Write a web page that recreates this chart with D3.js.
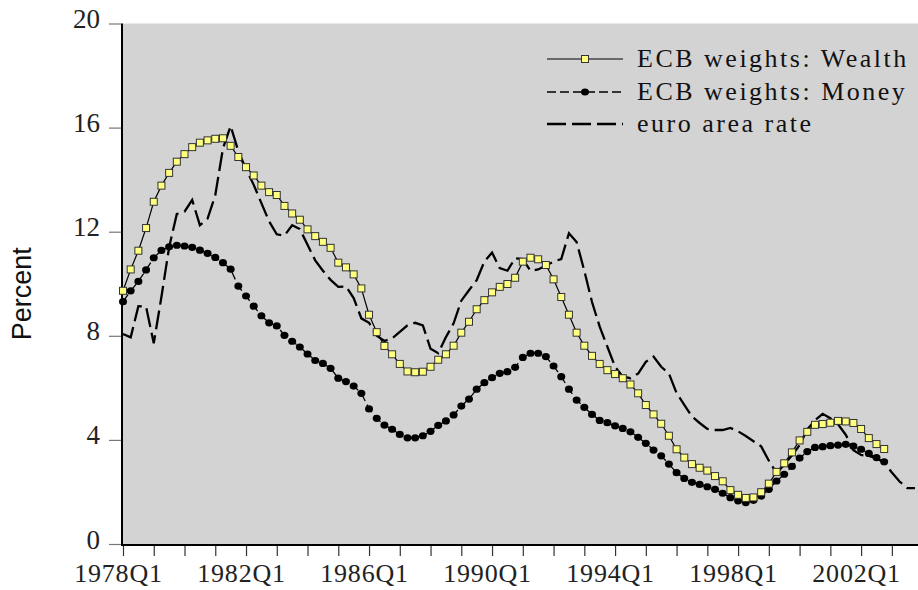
<!DOCTYPE html>
<html>
<head>
<meta charset="utf-8">
<script src="https://cdn.jsdelivr.net/npm/d3@7"></script>
<style>
  body { margin: 0; background: #fff; }
  svg { display: block; }
</style>
</head>
<body>
<div id="chart"></div>
<script>
  let width = 918;
  let height = 590;

  // quarterly data, index 0 = 1978Q1
  let startYear = 1978;
  let tickLabels = ['1978Q1', '1982Q1', '1986Q1', '1990Q1', '1994Q1', '1998Q1', '2002Q1'];
  let yTicks = [0, 4, 8, 12, 16, 20];
  let seriesNames = ['ECB weights: Wealth', 'ECB weights: Money', 'euro area rate'];

  let wealth = [
    9.73, 10.55, 11.27, 12.14, 13.15, 13.77, 14.26, 14.69, 14.98, 15.25,
    15.42, 15.51, 15.57, 15.59, 15.30, 14.87, 14.48, 14.16, 13.77, 13.52,
    13.41, 12.99, 12.70, 12.46, 12.09, 11.83, 11.61, 11.38, 10.81, 10.63,
    10.36, 9.82, 8.81, 8.14, 7.61, 7.29, 6.92, 6.63, 6.60, 6.62,
    6.81, 7.08, 7.29, 7.62, 8.12, 8.54, 9.02, 9.37, 9.67, 9.88,
    9.99, 10.23, 10.85, 11.00, 10.94, 10.72, 10.17, 9.49, 8.81, 8.12,
    7.62, 7.23, 6.92, 6.68, 6.53, 6.37, 6.13, 5.79, 5.34, 4.98,
    4.62, 4.16, 3.64, 3.32, 3.07, 2.93, 2.82, 2.61, 2.41, 2.07,
    1.89, 1.77, 1.79, 1.99, 2.32, 2.77, 3.10, 3.52, 3.98, 4.31,
    4.58, 4.61, 4.66, 4.73, 4.71, 4.65, 4.42, 4.07, 3.84, 3.65
  ];

  let money = [
    9.31, 9.73, 10.09, 10.53, 11.00, 11.28, 11.42, 11.48, 11.45, 11.40,
    11.29, 11.17, 11.01, 10.81, 10.56, 9.91, 9.53, 9.14, 8.77, 8.50,
    8.38, 8.02, 7.79, 7.57, 7.30, 7.05, 6.94, 6.75, 6.37, 6.24,
    6.07, 5.79, 5.19, 4.83, 4.57, 4.41, 4.21, 4.08, 4.08, 4.16,
    4.33, 4.56, 4.73, 4.96, 5.30, 5.57, 5.95, 6.20, 6.39, 6.56,
    6.62, 6.79, 7.17, 7.33, 7.33, 7.20, 6.84, 6.43, 5.95, 5.53,
    5.25, 4.98, 4.75, 4.66, 4.54, 4.44, 4.31, 4.10, 3.87, 3.61,
    3.39, 3.07, 2.74, 2.52, 2.37, 2.29, 2.20, 2.10, 1.95, 1.78,
    1.66, 1.59, 1.68, 1.84, 2.10, 2.42, 2.68, 2.98, 3.30, 3.55,
    3.71, 3.74, 3.78, 3.80, 3.83, 3.76, 3.64, 3.48, 3.32, 3.16
  ];

  let euroRate = [
    8.07, 7.94, 9.14, 9.12, 7.71, 9.50, 11.40, 12.68, 12.77, 13.22,
    12.25, 12.50, 13.40, 15.20, 16.06, 15.10, 14.40, 13.80, 13.10, 12.40,
    11.90, 11.85, 12.25, 12.10, 11.50, 10.90, 10.50, 10.15, 9.88, 9.90,
    9.45, 8.67, 8.50, 8.00, 7.80, 7.90, 8.15, 8.40, 8.50, 8.40,
    7.50, 7.33, 7.95, 8.48, 9.35, 9.75, 10.14, 10.85, 11.20, 10.60,
    10.50, 10.98, 10.95, 10.50, 10.55, 10.70, 10.85, 10.95, 11.94, 11.60,
    10.50, 9.30, 8.35, 7.58, 6.81, 6.43, 6.37, 6.55, 7.00, 7.20,
    6.81, 6.55, 5.80, 5.35, 4.90, 4.65, 4.42, 4.38, 4.38, 4.46,
    4.33, 4.15, 3.95, 3.75, 3.20, 2.72, 3.05, 3.40, 3.80, 4.40,
    4.75, 5.00, 4.83, 4.60, 4.20, 3.60, 3.42, 3.38, 3.30, 3.12,
    2.75, 2.40, 2.15, 2.15
  ];

  // turns a quarter label into its index from 1978Q1
  function quarterIndex(label){
    return (+label.slice(0, 4) - startYear) * 4 + (+label.slice(5) - 1);
  }

  let svg = d3.select('#chart')
    .append('svg')
    .attr('width', width)
    .attr('height', height);

  let plot = { left: 122, right: 918, top: 23.5, bottom: 544 };

  let x = d3.scaleLinear().domain([0, 103.4]).range([123, 918]);
  let y = d3.scaleLinear().domain([0, 20]).range([plot.bottom, plot.top]);

  // grey plot background
  svg.append('rect')
    .attr('x', plot.left)
    .attr('y', plot.top)
    .attr('width', plot.right - plot.left)
    .attr('height', plot.bottom - plot.top)
    .attr('fill', '#d3d3d3');

  let serif = '"Liberation Serif", "Times New Roman", serif';

  // y axis
  let yAxis = svg.append('g')
    .attr('transform', `translate(${plot.left - 1},0)`)
    .call(d3.axisLeft(y).tickValues(yTicks).tickSize(12).tickPadding(9).tickFormat(d3.format('d')));
  yAxis.select('.domain').remove();
  yAxis.selectAll('.tick line').attr('stroke', '#777').attr('stroke-width', 1.2);
  yAxis.selectAll('.tick text')
    .attr('font-family', serif)
    .attr('font-size', 27)
    .attr('fill', '#222')
    .attr('dy', '0.15em');

  // x axis: small tick every year, label every 4 years
  let labelIdx = tickLabels.map(quarterIndex);
  let xAxis = svg.append('g')
    .attr('transform', `translate(0,${plot.bottom + 1})`)
    .call(d3.axisBottom(x)
      .tickValues(d3.range(0, 104, 4))
      .tickSize(11)
      .tickFormat((d) => {
        let i = labelIdx.indexOf(d);
        return i >= 0 ? tickLabels[i] : '';
      }));
  xAxis.select('.domain').remove();
  xAxis.selectAll('.tick line').attr('stroke', '#333').attr('stroke-width', 1.2);
  xAxis.selectAll('.tick text')
    .attr('font-family', serif)
    .attr('font-size', 26)
    .attr('letter-spacing', 0.8)
    .attr('fill', '#222')
    .attr('x', -5)
    .attr('y', 37)
    .attr('dy', 0);

  // axis lines on left and bottom
  svg.append('line')
    .attr('x1', plot.left).attr('x2', plot.left)
    .attr('y1', plot.top).attr('y2', plot.bottom + 1)
    .attr('stroke', '#000').attr('stroke-width', 2);
  svg.append('line')
    .attr('x1', plot.left - 1).attr('x2', plot.right)
    .attr('y1', plot.bottom + 1).attr('y2', plot.bottom + 1)
    .attr('stroke', '#000').attr('stroke-width', 2);

  // y axis title
  svg.append('text')
    .attr('transform', `translate(31,${(plot.top + plot.bottom) / 2 + 10}) rotate(-90)`)
    .attr('text-anchor', 'middle')
    .attr('font-family', '"Liberation Sans", Arial, sans-serif')
    .attr('font-size', 27)
    .attr('fill', '#111')
    .text('Percent');

  let line = d3.line()
    .x((d, i) => x(i))
    .y((d) => y(d));

  let lines = svg.append('g');

  // euro area rate: long dashes
  lines.append('path')
    .datum(euroRate)
    .attr('d', line)
    .attr('fill', 'none')
    .attr('stroke', '#000')
    .attr('stroke-width', 2.3)
    .attr('stroke-dasharray', '19,6');

  // money: short dashes with black dots
  lines.append('path')
    .datum(money)
    .attr('d', line)
    .attr('fill', 'none')
    .attr('stroke', '#000')
    .attr('stroke-width', 1.3)
    .attr('stroke-dasharray', '9,4');

  lines.selectAll('.money-dot')
    .data(money)
    .enter().append('ellipse')
    .attr('class', 'money-dot')
    .attr('cx', (d, i) => x(i))
    .attr('cy', (d) => y(d))
    .attr('rx', 4)
    .attr('ry', 3.6)
    .attr('fill', '#000');

  // wealth: solid with yellow squares
  lines.append('path')
    .datum(wealth)
    .attr('d', line)
    .attr('fill', 'none')
    .attr('stroke', '#000')
    .attr('stroke-width', 1.2);

  let sq = 7;
  lines.selectAll('.wealth-sq')
    .data(wealth)
    .enter().append('rect')
    .attr('class', 'wealth-sq')
    .attr('x', (d, i) => x(i) - sq / 2)
    .attr('y', (d) => y(d) - sq / 2)
    .attr('width', sq)
    .attr('height', sq)
    .attr('fill', '#ffff80')
    .attr('stroke', '#333')
    .attr('stroke-width', 1);

  // legend
  let legend = svg.append('g');
  let legendY = [59, 92, 124];
  let lx1 = 547, lx2 = 623, ltext = 637;

  legend.append('line')
    .attr('x1', lx1).attr('x2', lx2).attr('y1', legendY[0]).attr('y2', legendY[0])
    .attr('stroke', '#000').attr('stroke-width', 1.2);
  legend.append('rect')
    .attr('x', (lx1 + lx2) / 2 - sq / 2).attr('y', legendY[0] - sq / 2)
    .attr('width', sq).attr('height', sq)
    .attr('fill', '#ffff80').attr('stroke', '#333');

  legend.append('line')
    .attr('x1', lx1).attr('x2', lx2).attr('y1', legendY[1]).attr('y2', legendY[1])
    .attr('stroke', '#000').attr('stroke-width', 1.3).attr('stroke-dasharray', '9,4');
  legend.append('ellipse')
    .attr('cx', (lx1 + lx2) / 2).attr('cy', legendY[1])
    .attr('rx', 4).attr('ry', 3.6).attr('fill', '#000');

  legend.append('line')
    .attr('x1', lx1).attr('x2', lx2).attr('y1', legendY[2]).attr('y2', legendY[2])
    .attr('stroke', '#000').attr('stroke-width', 2.3).attr('stroke-dasharray', '19,6');

  legend.selectAll('.legend-text')
    .data(seriesNames)
    .enter().append('text')
    .attr('class', 'legend-text')
    .attr('x', ltext)
    .attr('y', (d, i) => legendY[i] + 8)
    .attr('font-family', serif)
    .attr('font-size', 26)
    .attr('letter-spacing', 2.5)
    .attr('fill', '#111')
    .text((d) => d);
</script>
</body>
</html>
